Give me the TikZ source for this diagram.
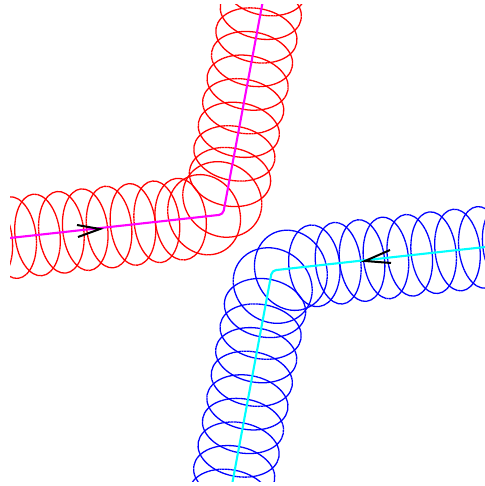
\documentclass[tikz,border=0pt]{standalone}
\usetikzlibrary{decorations.markings}

\definecolor{coremag}{RGB}{255,0,255}
\definecolor{corecyan}{RGB}{0,255,255}

\tikzset{
  ring/.style={line width=1.3pt, dash pattern=on 2.4pt off 0.35pt},
  tube/.style={decoration={markings,
      mark=between positions 6pt and 1 step 24pt with {
        \pgfmathsetmacro\dd{\pgfkeysvalueof{/pgf/decoration/mark info/distance from start}}
        \pgfmathsetmacro\rbase{\dd<258 ? 22.5 : 27}
        \pgfmathsetmacro\rmin{\rbase+(38-\rbase)*exp(-min(((\dd-258)/28)^2,9))}
        \draw[ring,#1] (0,0) ellipse [x radius=\rmin pt, y radius=41pt];
      }}, decorate, rounded corners=30pt},
  core/.style={line width=2.1pt, rounded corners=4pt},
  tip/.style={line width=2pt, black}
}

\begin{document}
\begin{tikzpicture}[x=1pt, y=-1pt]
\useasboundingbox (0,0) rectangle (484,486);
\clip (10,5) rectangle (485,481);
% red tube
\coordinate (rA) at (-40,243.5);
\coordinate (rB) at (223,214.5);
\coordinate (rC) at (272,-48);
\path[tube=red] (rA) -- (rB) -- (rC);
\draw[core, coremag] (rA) -- (rB) -- (rC);
\draw[tip] (77,225) -- (100,229) -- (78,237);
% blue tube
\coordinate (bA) at (535,241.5);
\coordinate (bB) at (272,270.5);
\coordinate (bC) at (223,533);
\path[tube=blue] (bA) -- (bB) -- (bC);
\draw[core, corecyan] (bA) -- (bB) -- (bC);
\draw[tip] (390,250) -- (365,261) -- (391,263);
\end{tikzpicture}
\end{document}
